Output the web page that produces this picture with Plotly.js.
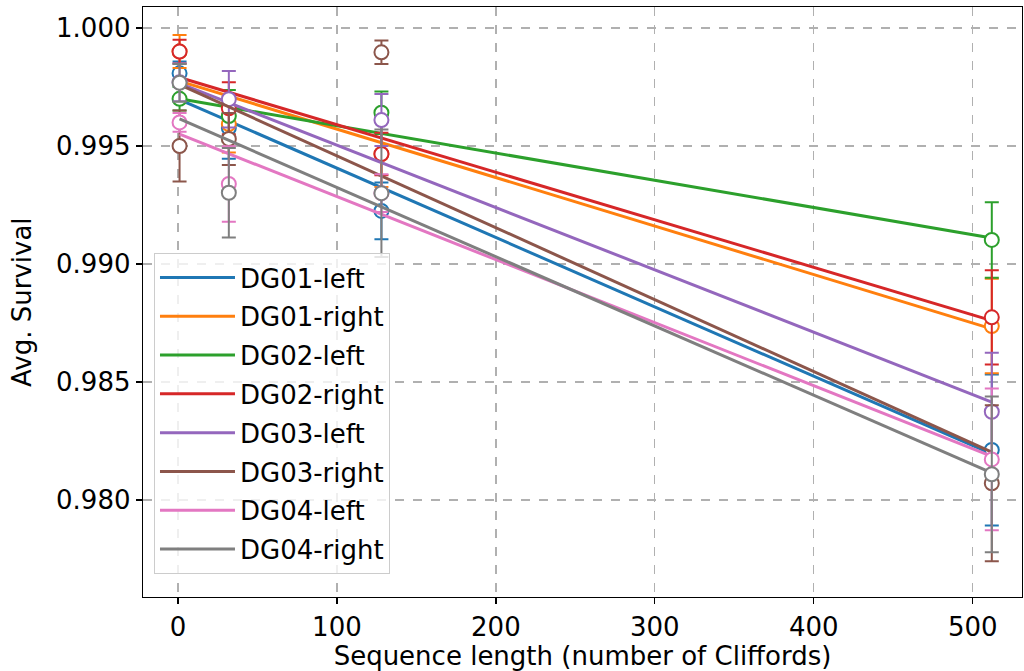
<!DOCTYPE html>
<html>
<head>
<meta charset="utf-8">
<script src="https://cdn.plot.ly/plotly-3.0.1.min.js"></script>
<style>html,body{margin:0;padding:0;background:#fff;}#chart{width:1024px;height:671px;}</style>
</head>
<body>
<div id="chart"></div>
<script>
// Sequence lengths (number of Cliffords)
const seqLengths = [1, 32, 128, 512];
const fitX = [1, 512];

const names = ["DG01-left", "DG01-right", "DG02-left", "DG02-right", "DG03-left", "DG03-right", "DG04-left", "DG04-right"];
const colors = ["#1f77b4", "#ff7f0e", "#2ca02c", "#d62728", "#9467bd", "#8c564b", "#e377c2", "#7f7f7f"];

// Measured average survival
const dg01Left  = [0.99808, 0.99576, 0.99225, 0.98212];
const dg01Right = [0.99900, 0.99593, 0.99466, 0.98737];
const dg02Left  = [0.99700, 0.99627, 0.99641, 0.99102];
const dg02Right = [0.99900, 0.99660, 0.99466, 0.98774];
const dg03Left  = [0.99770, 0.99698, 0.99610, 0.98374];
const dg03Right = [0.99500, 0.99530, 0.99897, 0.98071];
const dg04Left  = [0.99600, 0.99339, 0.99300, 0.98172];
const dg04Right = [0.99768, 0.99302, 0.99300, 0.98109];

// Error bars
const dg01LeftErr  = [0.0005, 0.0013, 0.0012, 0.0032];
const dg01RightErr = [0.0007, 0.0012, 0.0014, 0.0020];
const dg02LeftErr  = [0.0005, 0.0011, 0.0009, 0.0016];
const dg02RightErr = [0.0005, 0.0011, 0.0009, 0.0020];
const dg03LeftErr  = [0.0008, 0.0012, 0.0011, 0.0025];
const dg03RightErr = [0.0015, 0.0011, 0.0005, 0.0033];
const dg04LeftErr  = [0.0004, 0.0016, 0.0008, 0.0030];
const dg04RightErr = [0.0008, 0.0019, 0.0027, 0.0033];

// Fit curves evaluated at fitX
const dg01LeftFit  = [0.99697, 0.98195];
const dg01RightFit = [0.99775, 0.98725];
const dg02LeftFit  = [0.99700, 0.99110];
const dg02RightFit = [0.99790, 0.98760];
const dg03LeftFit  = [0.99765, 0.98415];
const dg03RightFit = [0.99760, 0.98203];
const dg04LeftFit  = [0.99550, 0.98185];
const dg04RightFit = [0.99615, 0.98115];

const xTitle = "Sequence length (number of Cliffords)";
const yTitle = "Avg. Survival";

const values = [dg01Left, dg01Right, dg02Left, dg02Right, dg03Left, dg03Right, dg04Left, dg04Right];
const errs = [dg01LeftErr, dg01RightErr, dg02LeftErr, dg02RightErr, dg03LeftErr, dg03RightErr, dg04LeftErr, dg04RightErr];
const fits = [dg01LeftFit, dg01RightFit, dg02LeftFit, dg02RightFit, dg03LeftFit, dg03RightFit, dg04LeftFit, dg04RightFit];

const FONT = "DejaVu Sans, sans-serif";
const FS = 26;
const traces = [];
names.forEach((n, i) => {
  traces.push({
    x: fitX, y: fits[i], mode: "lines", name: n, legendgroup: n,
    line: {color: colors[i], width: 3}, hoverinfo: "skip"
  });
  traces.push({
    x: seqLengths, y: values[i], mode: "markers", showlegend: false, legendgroup: n,
    marker: {symbol: "circle", size: 14, color: "#ffffff", line: {color: colors[i], width: 2}},
    error_y: {type: "data", array: errs[i], visible: true, color: colors[i], thickness: 2, width: 7}
  });
});

const layout = {
  width: 1024, height: 671,
  margin: {l: 143, r: 2, t: 7, b: 74},
  paper_bgcolor: "#ffffff", plot_bgcolor: "#ffffff",
  font: {family: FONT, size: FS, color: "#000"},
  showlegend: true,
  legend: {
    x: 0.0125, y: 0.583, xanchor: "left", yanchor: "top",
    bgcolor: "rgba(255,255,255,0.8)", bordercolor: "#cccccc", borderwidth: 1,
    font: {family: FONT, size: FS, color: "#000"},
    traceorder: "grouped", tracegroupgap: 2, itemwidth: 75
  },
  xaxis: {
    range: [-22, 531], tickvals: [0, 100, 200, 300, 400, 500],
    showline: true, mirror: true, linecolor: "#000", linewidth: 1.3,
    ticks: "outside", ticklen: 6, tickwidth: 1.3, tickcolor: "#000",
    showgrid: true, gridcolor: "#b0b0b0", griddash: "dash", gridwidth: 1.3,
    zeroline: false, automargin: false, tickfont: {family: FONT, size: FS},
    title: {text: xTitle, font: {family: FONT, size: FS}, standoff: 2}
  },
  yaxis: {
    range: [0.97589, 1.00089], tickvals: [0.980, 0.985, 0.990, 0.995, 1.000], tickformat: ".3f",
    showline: true, mirror: true, linecolor: "#000", linewidth: 1.3,
    ticks: "outside", ticklen: 6, tickwidth: 1.3, tickcolor: "#000",
    showgrid: true, gridcolor: "#b0b0b0", griddash: "dash", gridwidth: 1.3,
    zeroline: false, automargin: false, tickfont: {family: FONT, size: FS}
  },
  annotations: [{
    text: yTitle, xref: "paper", yref: "paper", x: -0.1377, y: 0.5,
    xanchor: "center", yanchor: "middle", textangle: -90, showarrow: false,
    font: {family: FONT, size: FS, color: "#000"}
  }]
};

Plotly.newPlot("chart", traces, layout, {displayModeBar: false, staticPlot: true});
</script>
</body>
</html>
